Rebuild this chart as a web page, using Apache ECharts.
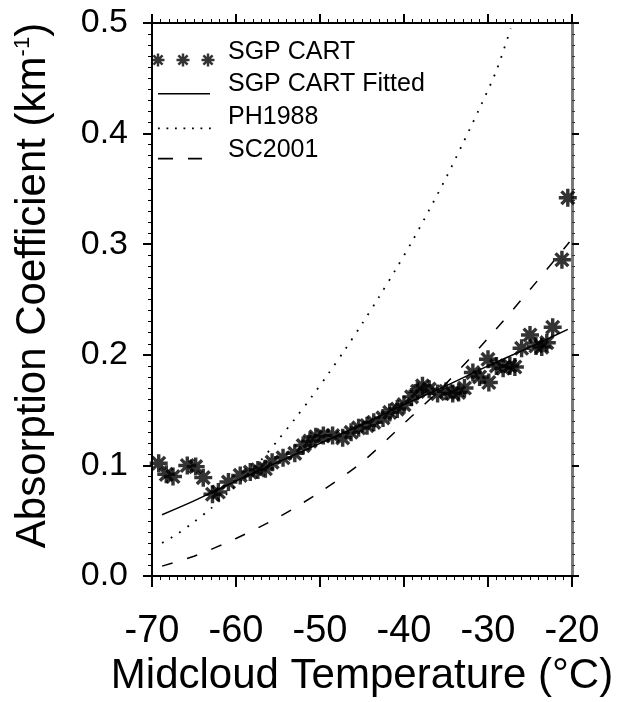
<!DOCTYPE html>
<html>
<head>
<meta charset="utf-8">
<script src="https://cdn.jsdelivr.net/npm/echarts@6/dist/echarts.min.js"></script>
<style>
html,body{margin:0;padding:0;background:#fff;}
#chart{width:621px;height:702px;}
</style>
</head>
<body>
<div id="chart"></div>
<script>
// ---- data ----
const xTickLabels = ['-70', '-60', '-50', '-40', '-30', '-20'];
const yTickLabels = ['0.0', '0.1', '0.2', '0.3', '0.4', '0.5'];

const sgpTemp = [-69.2, -68.3, -67.5, -65.8, -64.8, -63.9, -62.8, -62.1, -60.9, -59.5, -58.3, -57.4, -56.5, -55.7, -54.4, -53.0, -52.0, -51.2, -50.5, -49.6, -48.5, -47.3, -46.3, -45.4, -44.4, -43.6, -42.5, -41.7, -40.8, -40.0, -39.1, -38.4, -37.8, -37.0, -36.0, -35.0, -34.2, -33.5, -32.8, -31.8, -31.0, -30.0, -29.9, -29.0, -28.2, -27.4, -26.8, -26.0, -25.0, -24.3, -23.6, -23.0, -22.3, -21.2, -20.5];
const sgpCoef = [0.102, 0.092, 0.090, 0.100, 0.099, 0.089, 0.074, 0.076, 0.085, 0.091, 0.094, 0.096, 0.097, 0.103, 0.107, 0.111, 0.118, 0.122, 0.126, 0.127, 0.127, 0.125, 0.130, 0.134, 0.136, 0.139, 0.143, 0.148, 0.151, 0.155, 0.162, 0.167, 0.172, 0.169, 0.165, 0.167, 0.165, 0.166, 0.170, 0.184, 0.180, 0.196, 0.175, 0.190, 0.188, 0.190, 0.189, 0.206, 0.218, 0.208, 0.207, 0.211, 0.225, 0.286, 0.342];

const fitTemp = [-68.8, -65, -60, -55, -50, -45, -40, -35, -30, -25, -20.5];
const fitCoef = [0.0555, 0.068, 0.086, 0.103, 0.120, 0.137, 0.155, 0.172, 0.190, 0.207, 0.223];

const phTemp = [-68.8, -67, -65, -63, -61, -59, -57, -55, -53, -51, -49, -47, -45, -43, -41, -39, -37, -35, -33, -31, -29, -27.3];
const phCoef = [0.030, 0.038, 0.049, 0.061, 0.075, 0.089, 0.105, 0.123, 0.142, 0.162, 0.183, 0.205, 0.228, 0.252, 0.277, 0.303, 0.331, 0.360, 0.391, 0.423, 0.457, 0.495];

const scTemp = [-68.8, -65, -60, -55, -50, -45, -40, -35, -30, -25, -20.3];
const scCoef = [0.009, 0.018, 0.034, 0.053, 0.076, 0.103, 0.138, 0.174, 0.215, 0.259, 0.302];

// ---- styling helpers (icon shapes only) ----
const FONT = '"Liberation Sans", Arial, Helvetica, sans-serif';
function starAt(cx, cy, s) {
  const w = 1.9;
  const a = 7.07 - w * 0.7071, b = 7.07 + w * 0.7071;
  const rects = [
    [[-w,-10],[w,-10],[w,10],[-w,10]],
    [[-10,-w],[10,-w],[10,w],[-10,w]],
    [[-b,-a],[-a,-b],[b,a],[a,b]],
    [[a,-b],[b,-a],[-a,b],[-b,a]]
  ];
  return rects.map(r => 'M' + r.map(p => (cx + p[0]*s).toFixed(2) + ',' + (cy + p[1]*s).toFixed(2)).join(' L') + ' Z').join(' ');
}
function rect(x0, y0, x1, y1) {
  return 'M' + x0 + ',' + y0 + ' L' + x1 + ',' + y0 + ' L' + x1 + ',' + y1 + ' L' + x0 + ',' + y1 + ' Z';
}
// invisible anchors fix the icon box to 66 x 32
const ANCH = 'M0,0 L0.01,0 L0,0.01 Z M66,32 L65.99,32 L66,31.99 Z ';
const STAR = 'path://' + starAt(0, 0, 1);
const ICON_STAR = 'path://' + ANCH + starAt(8, 24, 0.65) + ' ' + starAt(33, 24, 0.65) + ' ' + starAt(58, 24, 0.65);
const ICON_SOLID = 'path://' + ANCH + rect(8, 24.3, 60, 25.8);
let dots = '';
for (let i = 0; i < 7; i++) { const x = 8 + i * 8.5; dots += rect(x, 26.2, x + 1.8, 28) + ' '; }
const ICON_DOT = 'path://' + ANCH + dots;
const ICON_DASH = 'path://' + ANCH + rect(8, 24, 23, 25.6) + ' ' + rect(38, 24, 52, 25.6);

const zip = (a, b) => a.map((v, i) => [v, b[i]]);

const chart = echarts.init(document.getElementById('chart'), null, {renderer: 'canvas'});

const baseX = {
  type: 'value', min: -70, max: -20, interval: 10,
  splitLine: {show: false}, minorSplitLine: {show: false}
};
const baseY = {
  type: 'value', min: 0, max: 0.5, interval: 0.1,
  splitLine: {show: false}, minorSplitLine: {show: false}
};

const option = {
  animation: false,
  backgroundColor: '#fff',
  grid: {left: 152, right: 49, top: 23, bottom: 120, containLabel: false},
  legend: {
    orient: 'vertical', left: 150, top: 36, padding: 0, itemGap: 0.6,
    itemWidth: 66, itemHeight: 32, symbolKeepAspect: true,
    itemStyle: {borderWidth: 0, color: '#000'},
    textStyle: {fontSize: 25, fontFamily: FONT, color: '#000', lineHeight: 28, padding: [0, 0, 0, 7]},
    data: [
      {name: 'SGP CART', icon: ICON_STAR},
      {name: 'SGP CART Fitted', icon: ICON_SOLID},
      {name: 'PH1988', icon: ICON_DOT},
      {name: 'SC2001', icon: ICON_DASH}
    ]
  },
  xAxis: [
    Object.assign({}, baseX, {
      position: 'bottom',
      name: 'Midcloud Temperature (°C)', nameLocation: 'middle', nameGap: 78,
      nameTextStyle: {fontSize: 42, fontFamily: FONT, color: '#000'},
      axisLine: {onZero: false, lineStyle: {color: '#000', width: 2}},
      axisTick: {inside: false, length: 11, lineStyle: {color: '#000', width: 2}},
      minorTick: {show: true, splitNumber: 10, length: 4, lineStyle: {color: '#000', width: 1}},
      axisLabel: {fontSize: 38, fontFamily: FONT, color: '#000', margin: 36,
        formatter: v => xTickLabels[Math.round((v + 70) / 10)]}
    }),
    Object.assign({}, baseX, {
      position: 'top',
      axisLine: {onZero: false, lineStyle: {color: '#000', width: 2}},
      axisTick: {inside: false, length: 9, lineStyle: {color: '#000', width: 2}},
      minorTick: {show: true, splitNumber: 10, length: 4, lineStyle: {color: '#000', width: 1}},
      axisLabel: {show: false}
    })
  ],
  yAxis: [
    Object.assign({}, baseY, {
      position: 'left',
      name: '{a|Absorption Coefficient (km}{s|-1}{a|)}', nameLocation: 'middle', nameGap: 98,
      nameTextStyle: {
        fontSize: 42, fontFamily: FONT, color: '#000', padding: [0, 0, 0, 28],
        rich: {
          a: {fontSize: 42, fontFamily: FONT, color: '#000'},
          s: {fontSize: 22, fontFamily: FONT, color: '#000', verticalAlign: 'top'}
        }
      },
      axisLine: {onZero: false, lineStyle: {color: '#000', width: 2}},
      axisTick: {inside: false, length: 9, lineStyle: {color: '#000', width: 2}},
      minorTick: {show: true, splitNumber: 10, length: 4, lineStyle: {color: '#000', width: 1}},
      axisLabel: {fontSize: 34, fontFamily: FONT, color: '#000', margin: 24,
        formatter: v => yTickLabels[Math.round(v * 10)]}
    }),
    Object.assign({}, baseY, {
      position: 'right',
      axisLine: {onZero: false, lineStyle: {color: '#7a7a7a', width: 3}},
      axisTick: {inside: false, length: 7, lineStyle: {color: '#000', width: 2}},
      minorTick: {show: true, splitNumber: 10, length: 3, lineStyle: {color: '#333', width: 1}},
      axisLabel: {show: false}
    })
  ],
  series: [
    {
      name: 'SGP CART', type: 'scatter', xAxisIndex: 0, yAxisIndex: 0,
      symbol: STAR, symbolSize: 18,
      itemStyle: {color: '#000'},
      data: zip(sgpTemp, sgpCoef), z: 5
    },
    {
      name: 'SGP CART Fitted', type: 'line', xAxisIndex: 0, yAxisIndex: 0,
      showSymbol: false, symbol: 'none', smooth: 0.3,
      lineStyle: {color: '#000', width: 1.5, type: 'solid'},
      itemStyle: {color: '#000'},
      data: zip(fitTemp, fitCoef)
    },
    {
      name: 'PH1988', type: 'line', xAxisIndex: 0, yAxisIndex: 0,
      showSymbol: false, symbol: 'none', smooth: 0.3,
      lineStyle: {color: '#000', width: 1.8, type: [1.8, 8.2]},
      itemStyle: {color: '#000'},
      data: zip(phTemp, phCoef)
    },
    {
      name: 'SC2001', type: 'line', xAxisIndex: 0, yAxisIndex: 0,
      showSymbol: false, symbol: 'none', smooth: 0.3,
      lineStyle: {color: '#000', width: 1.5, type: [11, 15]},
      itemStyle: {color: '#000'},
      data: zip(scTemp, scCoef)
    }
  ]
};
chart.setOption(option);
</script>
</body>
</html>
